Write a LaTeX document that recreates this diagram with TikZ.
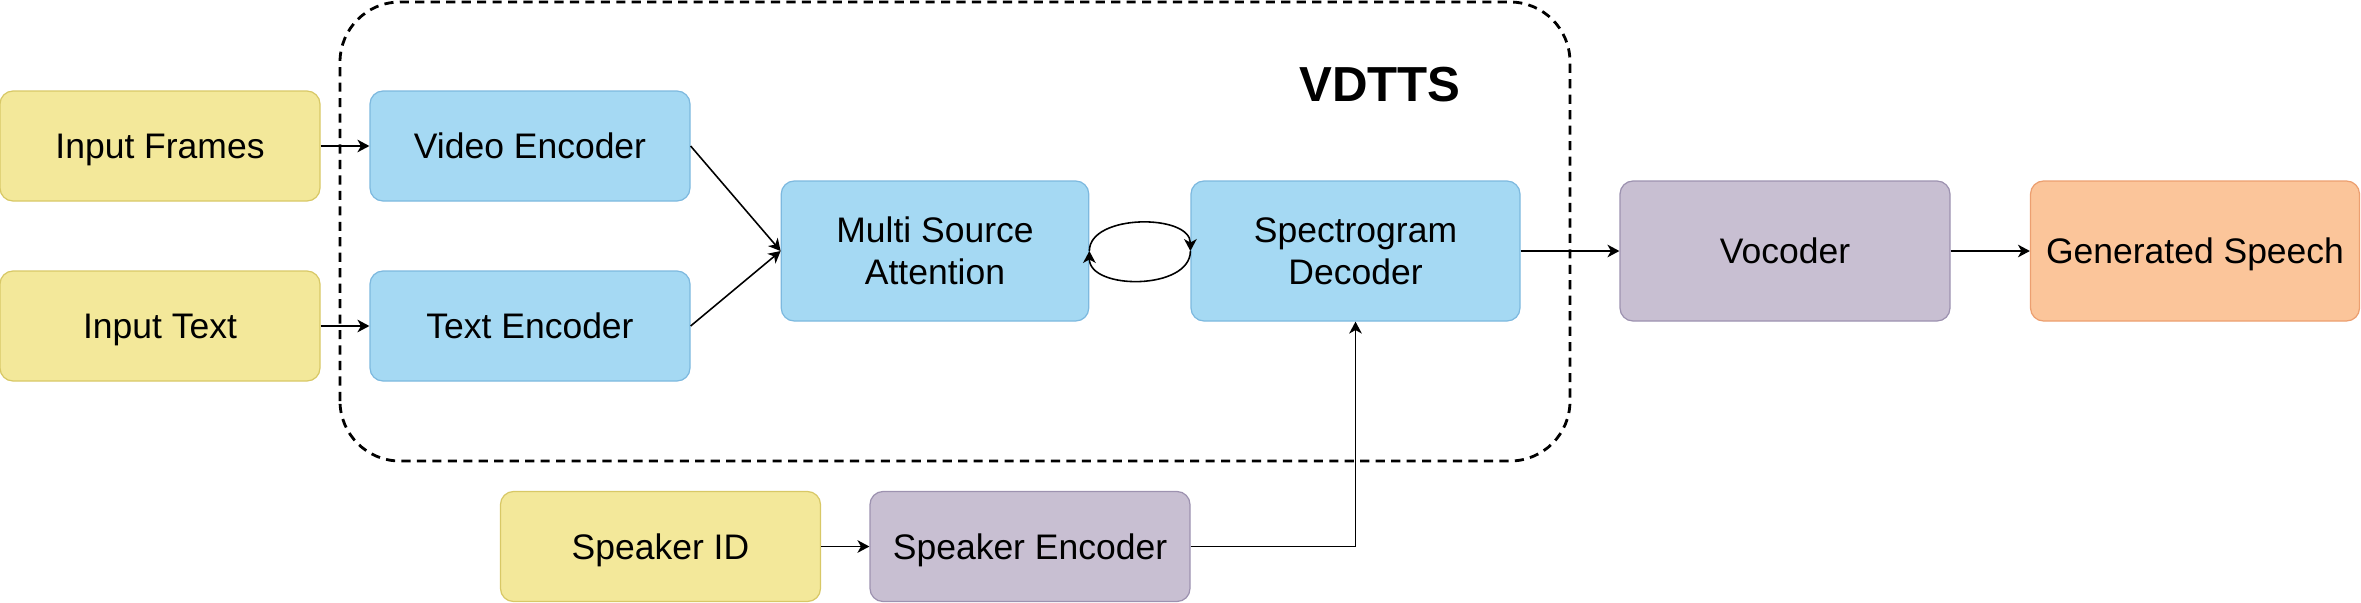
\documentclass[tikz,border=0pt]{standalone}
\usepackage{fontspec}
\setmainfont{Liberation Sans}
\usetikzlibrary{arrows.meta}

\definecolor{yelfill}{HTML}{F3E89A}
\definecolor{yeldraw}{HTML}{D8C866}
\definecolor{bluefill}{HTML}{A5D9F3}
\definecolor{bluedraw}{HTML}{7DB9DF}
\definecolor{purfill}{HTML}{C8BFD2}
\definecolor{purdraw}{HTML}{9D92B0}
\definecolor{orfill}{HTML}{FBC59A}
\definecolor{ordraw}{HTML}{EC9F70}

\begin{document}
\begin{tikzpicture}[
    every node/.style={font=\fontsize{10.1pt}{12pt}\selectfont, align=center, inner sep=0pt},
    box/.style={draw, rounded corners=0.13cm, line width=0.35pt},
    oneline/.style={text height=7.2pt, text depth=0pt},
    inbox/.style={box, oneline, fill=yelfill, draw=yeldraw, minimum width=3.2cm, minimum height=1.1cm},
    encbox/.style={box, oneline, fill=bluefill, draw=bluedraw, minimum width=3.2cm, minimum height=1.1cm},
    corebox/.style={box, fill=bluefill, draw=bluedraw, minimum height=1.4cm},
    vocbox/.style={box, oneline, fill=purfill, draw=purdraw},
    outbox/.style={box, oneline, fill=orfill, draw=ordraw, minimum height=1.4cm},
    group/.style={draw, line width=0.8pt, dash pattern=on 2.6pt off 1.8pt, rounded corners=0.6cm},
    arr/.style={-{Stealth[length=3.4pt, width=3.6pt, inset=1pt]}, line width=0.45pt}
]
    \useasboundingbox (0, 0) rectangle (23.61, 6.02);

    %group
    \draw[group] (3.40, 1.41) rectangle (15.70, 6.00);
    \node[font=\fontsize{14pt}{16pt}\selectfont\bfseries] (vdtts) at (13.80, 5.17) {VDTTS};

    %nodes
    \node[inbox] (frames) at (1.60, 4.56) {Input Frames};
    \node[inbox] (text) at (1.60, 2.76) {Input Text};
    \node[encbox] (videnc) at (5.30, 4.56) {Video Encoder};
    \node[encbox] (textenc) at (5.30, 2.76) {Text Encoder};
    \node[corebox, minimum width=3.075cm] (msa) at (9.35, 3.51) {Multi Source\\Attention};
    \node[corebox, minimum width=3.29cm] (specdec) at (13.555, 3.51) {Spectrogram\\Decoder};
    \node[vocbox, minimum width=3.3cm, minimum height=1.4cm] (vocoder) at (17.85, 3.51) {Vocoder};
    \node[outbox, minimum width=3.29cm] (speech) at (21.95, 3.51) {Generated Speech};
    \node[inbox] (spkid) at (6.605, 0.555) {Speaker ID};
    \node[vocbox, minimum width=3.2cm, minimum height=1.1cm] (spkenc) at (10.30, 0.555) {Speaker Encoder};

    %edges
    \draw[arr] (frames) -- (videnc);
    \draw[arr] (text) -- (textenc);
    \draw[arr] (videnc.east) -- (msa.west);
    \draw[arr] (textenc.east) -- (msa.west);
    \draw[arr] (msa.east) to[out=90, in=90, looseness=0.95] (specdec.west);
    \draw[arr] (specdec.west) to[out=-90, in=-90] (msa.east);
    \draw[arr] (specdec) -- (vocoder);
    \draw[arr] (vocoder) -- (speech);
    \draw[arr] (spkid) -- (spkenc);
    \draw[arr] (spkenc) -| (specdec);
\end{tikzpicture}
\end{document}
